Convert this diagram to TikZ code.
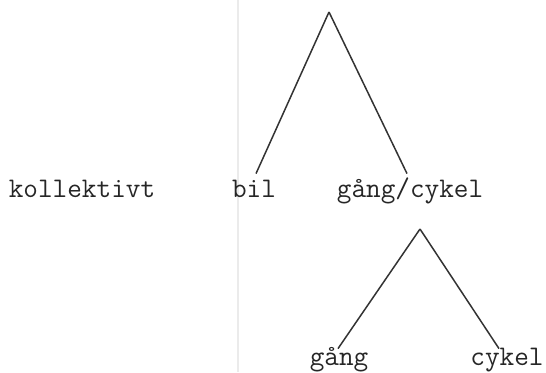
\documentclass[tikz,border=0pt]{standalone}
\usepackage{fontspec}
\usetikzlibrary{calc}

\begin{document}
\begin{tikzpicture}[x=0.5pt, y=-0.5pt,
    word/.style={font=\ttfamily\fontsize{14.2}{17}\selectfont, anchor=base,
      text=black!85, inner xsep=0pt, inner ysep=4.5pt, text height=7pt, text depth=2.5pt},
    leg/.style={line width=0.75pt, black!80}]
        \useasboundingbox (0,0) rectangle (546,372);
        \draw[black!8, line width=0.6pt] (238,0) -- (238,372);
        % first level
        \node[word] (koll) at (82,197) {kollektivt};
        \node[word] (bil) at (254,197) {bil};
        \node[word] (gc) at (410,197) {gång/cykel};
        \coordinate (top) at (329,12);
        \draw[leg] (top) -- ([xshift=1pt]bil.north);
        \draw[leg] (top) -- ([xshift=-1.5pt]gc.north);
        % second level
        \node[word] (gang) at (339,365) {gång};
        \node[word] (cykel) at (507,365) {cykel};
        \coordinate (topgc) at (420,229);
        \draw[leg] (topgc) -- ([xshift=-0.5pt, yshift=-3.5pt]gang.north);
        \draw[leg] (topgc) -- ([xshift=-4pt, yshift=-3.5pt]cykel.north);
    \end{tikzpicture}
\end{document}
